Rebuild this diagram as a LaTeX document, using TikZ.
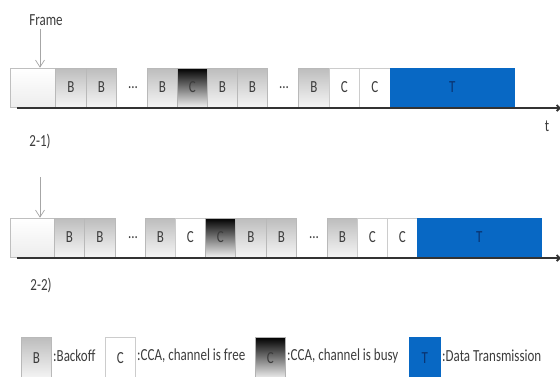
\documentclass[tikz,border=0pt]{standalone}
\usepackage{fontspec}
\usepackage{graphicx}
\setmainfont{Carlito}
\usetikzlibrary{arrows.meta}
\definecolor{txtgray}{RGB}{60,60,60}
\definecolor{tblue}{RGB}{8,104,196}
\definecolor{tdark}{RGB}{10,50,110}
\newcommand{\tx}[1]{\scalebox{1}[1.3]{#1}}
\tikzset{
  every node/.style={font=\fontsize{13}{15}\selectfont, text=txtgray},
  slot/.style={draw=gray!55, line width=0.6pt, minimum height=39pt, inner sep=0pt, anchor=west},
  bslot/.style={slot, top color=gray!52, bottom color=gray!8},
  cslot/.style={slot, fill=white, draw=gray!40},
  kslot/.style={slot, top color=black, bottom color=gray!12, draw=gray!60},
  tslot/.style={slot, fill=tblue, draw=tblue, text=tdark},
  fslot/.style={slot, top color=white, bottom color=gray!14, draw=gray!50},
  axis/.style={line width=1.8pt, draw=black!80, -{Straight Barb[length=3pt,width=6pt]}},
  farrow/.style={draw=gray!70, line width=0.7pt, -{Straight Barb[length=7pt,width=9pt]}},
  lbl/.style={inner sep=0pt},
}
\begin{document}
\begin{tikzpicture}[x=1pt,y=-1pt]
\useasboundingbox (0,0) rectangle (560,376);
% ---------- Row 1 ----------
\node[fslot, minimum width=45] (f1) at (10,87.5) {};
\node[bslot, minimum width=31] (a1) at (55,87.5) {\tx{B}};
\node[bslot, minimum width=30] (a2) at (86,87.5) {\tx{B}};
\node[lbl] (d1) at (133,87.5) {\tx{...}};
\node[bslot, minimum width=30] (a3) at (147,87.5) {\tx{B}};
\node[kslot, minimum width=30] (a4) at (177,87.5) {\tx{C}};
\node[bslot, minimum width=30] (a5) at (207,87.5) {\tx{B}};
\node[bslot, minimum width=30] (a6) at (237,87.5) {\tx{B}};
\node[lbl] (d2) at (284,87.5) {\tx{...}};
\node[bslot, minimum width=31] (a7) at (298,87.5) {\tx{B}};
\node[cslot, minimum width=30] (a8) at (329,87.5) {\tx{C}};
\node[cslot, minimum width=31] (a9) at (359,87.5) {\tx{C}};
\node[tslot, minimum width=124] (a10) at (390,87.5) {\tx{T}};
\coordinate (ax1s) at (17,108);
\coordinate (ax1e) at (561,108);
\draw[axis] (ax1s) -- (ax1e);
\node[lbl] (frame) at (46,20) {\tx{Frame}};
\coordinate (fr1) at (40,29);
\draw[farrow] (fr1) -- (fr1 |- f1.north);
\node[lbl] (t1) at (547,126) {\tx{t}};
\node[lbl] (r1) at (40,141) {\tx{2-1)}};
% ---------- Row 2 ----------
\node[fslot, minimum width=44] (f2) at (10,237.5) {};
\node[bslot, minimum width=30] (b1) at (54,237.5) {\tx{B}};
\node[bslot, minimum width=31] (b2) at (84,237.5) {\tx{B}};
\node[lbl] (e1) at (133,237.5) {\tx{...}};
\node[bslot, minimum width=30] (b3) at (145,237.5) {\tx{B}};
\node[cslot, minimum width=30] (b4) at (175,237.5) {\tx{C}};
\node[kslot, minimum width=30] (b5) at (205,237.5) {\tx{C}};
\node[bslot, minimum width=31] (b6) at (235,237.5) {\tx{B}};
\node[bslot, minimum width=30] (b7) at (266,237.5) {\tx{B}};
\node[lbl] (e2) at (314,237.5) {\tx{...}};
\node[bslot, minimum width=30] (b8) at (327,237.5) {\tx{B}};
\node[cslot, minimum width=30] (b9) at (357,237.5) {\tx{C}};
\node[cslot, minimum width=30] (b10) at (387,237.5) {\tx{C}};
\node[tslot, minimum width=124] (b11) at (417,237.5) {\tx{T}};
\coordinate (ax2s) at (17,258);
\coordinate (ax2e) at (561,258);
\draw[axis] (ax2s) -- (ax2e);
\coordinate (fr2) at (40,177);
\draw[farrow] (fr2) -- (fr2 |- f2.north);
\node[lbl] (r2) at (41,285) {\tx{2-2)}};
% ---------- Legend ----------
\node[bslot, minimum width=30, minimum height=41, anchor=north west] (lb) at (21,337) {\tx{B}};
\node[lbl, anchor=west] (lbt) at (53,356) {\tx{:Backoff}};
\node[cslot, minimum width=30, minimum height=41, anchor=north west] (lc) at (105,337) {\tx{C}};
\node[lbl, anchor=west] (lct) at (137,356) {\tx{:CCA, channel is free}};
\node[kslot, minimum width=30, minimum height=41, anchor=north west] (lk) at (255,337) {\tx{C}};
\node[lbl, anchor=west] (lkt) at (287,356) {\tx{:CCA, channel is busy}};
\node[tslot, minimum width=31, minimum height=41, anchor=north west] (lt) at (409,337) {\tx{T}};
\node[lbl, anchor=west] (ltt) at (442,356) {\tx{:Data Transmission}};
\end{tikzpicture}
\end{document}
